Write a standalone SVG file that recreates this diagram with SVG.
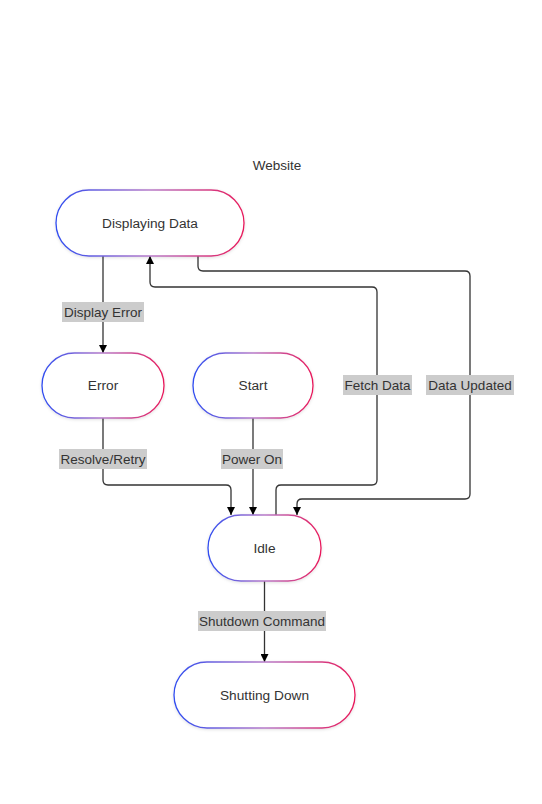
<svg xmlns="http://www.w3.org/2000/svg" width="542" height="804" viewBox="0 0 542 804">
<style>
.node rect{fill:#ffffff;stroke:url(#grad);stroke-width:1.3;}
.node text{font-family:"Liberation Sans",Arial,sans-serif;font-size:13.7px;fill:#333;text-anchor:middle;dominant-baseline:central;}
.edge{fill:none;stroke:#333;stroke-width:1.3;}
.lbl rect{fill:#cccccc;}
.lbl text{font-family:"Liberation Sans",Arial,sans-serif;font-size:13.5px;fill:#333;text-anchor:middle;dominant-baseline:central;}
.title{font-family:"Liberation Sans",Arial,sans-serif;font-size:13.5px;fill:#333;text-anchor:middle;dominant-baseline:central;}
</style>
<defs>
<linearGradient id="grad" x1="0" y1="0" x2="1" y2="0" gradientUnits="objectBoundingBox">
<stop offset="0" stop-color="#2f4cf0"/>
<stop offset="0.5" stop-color="#b67ac8"/>
<stop offset="1" stop-color="#e8185a"/>
</linearGradient>
<filter id="sh" x="-10%" y="-10%" width="120%" height="130%">
<feDropShadow dx="0" dy="1" stdDeviation="1.5" flood-color="#000" flood-opacity="0.12"/>
</filter>
<marker id="arr" viewBox="0 0 10 10" refX="10" refY="5" markerWidth="8" markerHeight="8" markerUnits="userSpaceOnUse" orient="auto">
<path d="M0,0 L10,5 L0,10 z" fill="#000"/>
</marker>
</defs>
<rect width="542" height="804" fill="#ffffff"/>
<text class="title" x="277" y="165">Website</text>
<g id="edges">
<path class="edge" marker-end="url(#arr)" d="M103,256 L103,353"/>
<path class="edge" marker-end="url(#arr)" d="M103,418 L103,480 Q103,485 108,485 L226,485 Q231,485 231,490 L231,515"/>
<path class="edge" marker-end="url(#arr)" d="M253,418 L253,515"/>
<path class="edge" marker-end="url(#arr)" d="M276,515 L276,490 Q276,485 281,485 L372,485 Q377,485 377,480 L377,292 Q377,287 372,287 L155,287 Q150,287 150,282 L150,256"/>
<path class="edge" marker-end="url(#arr)" d="M198,256 L198,266 Q198,271 203,271 L465,271 Q470,271 470,276 L470,494 Q470,499 465,499 L302,499 Q297,499 297,504 L297,515"/>
<path class="edge" marker-end="url(#arr)" d="M264.5,581 L264.5,662"/>
</g>
<g id="edge-labels">
<g class="lbl"><rect x="62" y="302" width="82" height="20"/><text x="103" y="312">Display Error</text></g>
<g class="lbl"><rect x="59" y="449" width="88" height="20"/><text x="103" y="459">Resolve/Retry</text></g>
<g class="lbl"><rect x="221" y="449" width="62" height="20"/><text x="252" y="459">Power On</text></g>
<g class="lbl"><rect x="343" y="375" width="69" height="20"/><text x="377.5" y="385">Fetch Data</text></g>
<g class="lbl"><rect x="426" y="375" width="88" height="20"/><text x="470" y="385">Data Updated</text></g>
<g class="lbl"><rect x="198" y="611" width="128" height="20"/><text x="262" y="621">Shutdown Command</text></g>
</g>
<g id="node-displaying" class="node"><rect x="56" y="190" width="188" height="66" rx="33" filter="url(#sh)"/><text x="150" y="223">Displaying Data</text></g>
<g id="node-error" class="node"><rect x="42" y="353" width="122" height="65" rx="32.5" filter="url(#sh)"/><text x="103" y="385.5">Error</text></g>
<g id="node-start" class="node"><rect x="193" y="353" width="120" height="65" rx="32.5" filter="url(#sh)"/><text x="253" y="385.5">Start</text></g>
<g id="node-idle" class="node"><rect x="208" y="515" width="113" height="66" rx="33" filter="url(#sh)"/><text x="264.5" y="548">Idle</text></g>
<g id="node-shutting" class="node"><rect x="174" y="662" width="181" height="66" rx="33" filter="url(#sh)"/><text x="264.5" y="695">Shutting Down</text></g>
</svg>
